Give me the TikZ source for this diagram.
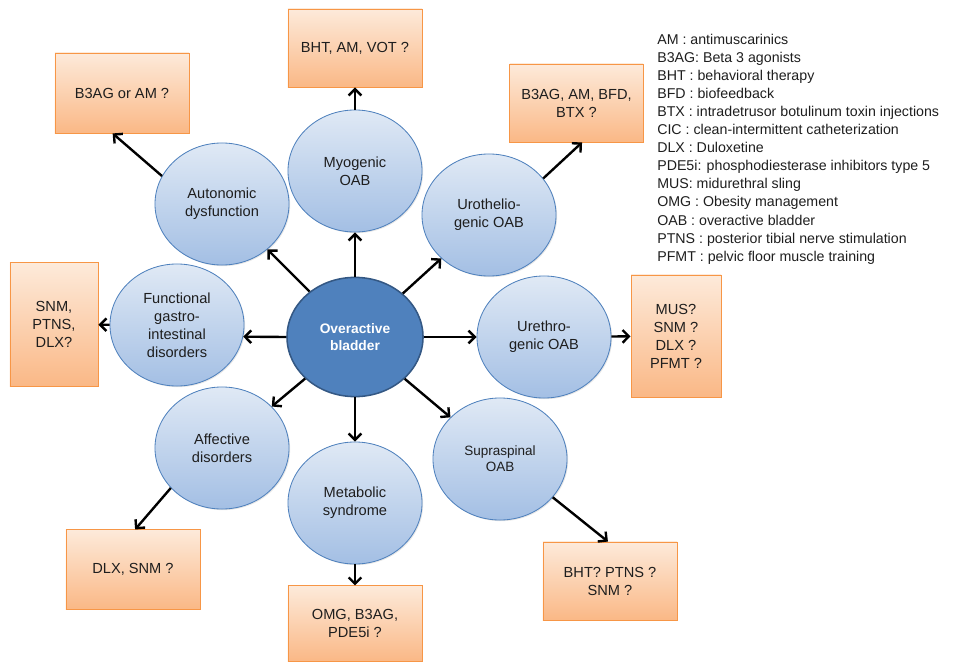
\documentclass[tikz,border=0pt]{standalone}
\usepackage{fontspec}
\setmainfont{Liberation Sans}
\usetikzlibrary{shapes.geometric,arrows.meta,shadows}
\definecolor{circtop}{RGB}{224,233,245}
\definecolor{circbot}{RGB}{163,191,228}
\definecolor{circline}{RGB}{79,129,189}
\definecolor{oabfill}{RGB}{79,129,189}
\definecolor{oabline}{RGB}{52,88,132}
\definecolor{boxtop}{RGB}{253,234,218}
\definecolor{boxbot}{RGB}{250,184,134}
\definecolor{boxline}{RGB}{247,150,70}
\definecolor{txt}{RGB}{30,30,30}
\begin{document}
\begin{tikzpicture}[x=0.025cm,y=-0.025cm,
  font=\fontsize{10.4}{12.8}\selectfont,text=txt,
  cause/.style={ellipse,draw=circline,line width=0.6pt,top color=circtop,bottom color=circbot,
    minimum width=3.35cm,minimum height=3.05cm,inner sep=0pt,align=center,
    drop shadow={shadow xshift=0.8pt,shadow yshift=-0.8pt,opacity=0.2}},
  treat/.style={rectangle,draw=boxline,line width=0.6pt,top color=boxtop,bottom color=boxbot,
    inner sep=0pt,align=center,
    drop shadow={shadow xshift=0.8pt,shadow yshift=-0.8pt,opacity=0.2}},
  arr/.style={-{Straight Barb[length=4.5pt,width=9pt]},line width=1.7pt,black}]
  \useasboundingbox (0,0) rectangle (957,662);

  \node[ellipse,draw=oabline,line width=1.1pt,fill=oabfill,minimum width=3.4cm,minimum height=2.98cm,
    align=center,text=white,font=\fontsize{9.8}{11.5}\selectfont\bfseries] (oab) at (355,337) {Overactive\\bladder};

  \node[cause] (myo) at (355,171) {Myogenic\\OAB};
  \node[cause] (auto) at (222,204) {Autonomic\\dysfunction};
  \node[cause] (uro) at (489,215) {Urothelio-\\genic OAB};
  \node[cause] (func) at (177,325) {Functional\\gastro-\\intestinal\\disorders};
  \node[cause] (ureth) at (544,337) {Urethro-\\genic OAB};
  \node[cause] (aff) at (222,448) {Affective\\disorders};
  \node[cause] (meta) at (355,503) {Metabolic\\syndrome};
  \node[cause,font=\fontsize{9.6}{11.5}\selectfont] (supra) at (500,459) {Supraspinal\\OAB};

  \node[treat,minimum width=3.35cm,minimum height=1.95cm] (vot) at (355,48) {BHT, AM, VOT ?};
  \node[treat,minimum width=3.35cm,minimum height=2cm] (b3ag) at (122,93) {B3AG or AM ?};
  \node[treat,minimum width=3.33cm,minimum height=1.95cm] (bfd) at (576.5,103) {B3AG, AM, BFD,\\BTX ?};
  \node[treat,minimum width=2.2cm,minimum height=3.08cm] (snm) at (54,324.5) {SNM,\\PTNS,\\DLX?};
  \node[treat,minimum width=2.25cm,minimum height=3.05cm] (mus) at (676,336) {MUS?\\SNM ?\\DLX ?\\PFMT ?};
  \node[treat,minimum width=3.35cm,minimum height=1.98cm] (dlx) at (133,569.5) {DLX, SNM ?};
  \node[treat,minimum width=3.35cm,minimum height=1.88cm] (omg) at (355,623.5) {OMG, B3AG,\\PDE5i ?};
  \node[treat,minimum width=3.35cm,minimum height=1.95cm] (bht) at (610,581) {BHT? PTNS ?\\SNM ?};

  \foreach \c in {myo,auto,uro,ureth,aff,meta,supra}
    \draw[arr] (oab) -- (\c);
  \draw[arr] (oab.west) -- (func.-10);

  \draw[arr] (myo) -- (vot);
  \draw[arr] (auto.155) -- (b3ag.-103);
  \draw[arr] (uro.34) -- (bfd.-82);
  \draw[arr] (func) -- (snm);
  \draw[arr] (ureth) -- (mus);
  \draw[arr] (aff.218) -- (dlx.87);
  \draw[arr] (meta) -- (omg);
  \draw[arr] (supra.-36) -- (bht.93);

  \foreach \t [count=\i] in {AM : antimuscarinics,B3AG: Beta 3 agonists,BHT : behavioral therapy,
      BFD : biofeedback,BTX : intradetrusor botulinum toxin injections,CIC : clean-intermittent catheterization,
      DLX : Duloxetine,PDE5i: phosphodiesterase inhibitors type 5,MUS: midurethral sling,
      OMG : Obesity management,OAB : overactive bladder,PTNS : posterior tibial nerve stimulation,
      PFMT : pelvic floor muscle training}
    \node[anchor=base west,inner sep=0pt,font=\fontsize{10.1}{12}\selectfont] (leg\i) at (657,{45+18*(\i-1)}) {\t};
\end{tikzpicture}
\end{document}
